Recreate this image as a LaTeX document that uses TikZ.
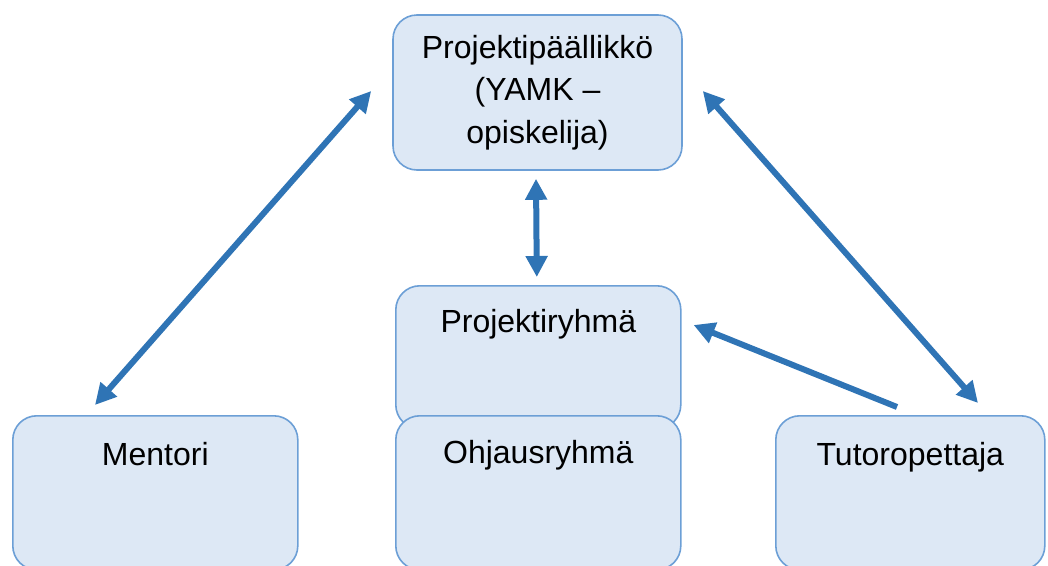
\documentclass[tikz,border=0pt]{standalone}
\usepackage{fontspec}
\setmainfont{Liberation Sans}
\usetikzlibrary{arrows.meta,calc}
\definecolor{boxfill}{HTML}{DDE8F5}
\definecolor{boxline}{HTML}{6C9FD6}
\definecolor{arr}{HTML}{2F74B5}
\tikzset{
  box/.style={draw=boxline, fill=boxfill, line width=1.6pt, rounded corners=24pt,
    font=\fontsize{32}{42.5}\selectfont, inner xsep=0pt, inner ysep=0pt, align=center},
  toplbl/.style={box, anchor=north west, text height=#1},
  conn/.style={draw=arr, line width=6pt, -{Triangle[length=21pt,width=21pt]}},
  biconn/.style={draw=arr, line width=6pt, {Triangle[length=21pt,width=21pt]}-{Triangle[length=21pt,width=21pt]}}
}
\begin{document}
\begin{tikzpicture}[x=1pt,y=-1pt]
\useasboundingbox (0,0) rectangle (1048,565);
\node[box, minimum width=289pt, minimum height=155pt] (pm) at (537.5,92.5)
  {Projektipäällikkö\\(YAMK –\\opiskelija)};
\node[toplbl=47pt, text depth=96pt, text width=285pt] (pr) at (395,285) {Projektiryhmä};
\node[toplbl=48pt, text depth=106pt, text width=285pt] (oh) at (395,415) {Ohjausryhmä};
\node[toplbl=50pt, text depth=104pt, text width=285pt] (mentori) at (12,415) {Mentori};
\node[toplbl=50pt, text depth=104pt, text width=269pt] (tutor) at (775,415) {Tutoropettaja};
\coordinate (m1) at ($(mentori.north west)+(83,-10)$);
\coordinate (p1) at ($(pm.west)+(-21,-1.5)$);
\coordinate (p2) at ($(pm.east)+(20,-1.5)$);
\coordinate (t1) at ($(tutor.north west)+(203,-12)$);
\coordinate (p3) at ($(pm.south)+(-1.5,8)$);
\coordinate (r1) at ($(pr.north)+(-1.5,-8)$);
\coordinate (t2) at ($(tutor.north west)+(122,-8)$);
\coordinate (r2) at ($(pr.north east)+(12,40)$);
\draw[biconn] (m1) -- (p1);
\draw[biconn] (p2) -- (t1);
\draw[biconn] (p3) -- (r1);
\draw[conn] (t2) -- (r2);
\end{tikzpicture}
\end{document}
